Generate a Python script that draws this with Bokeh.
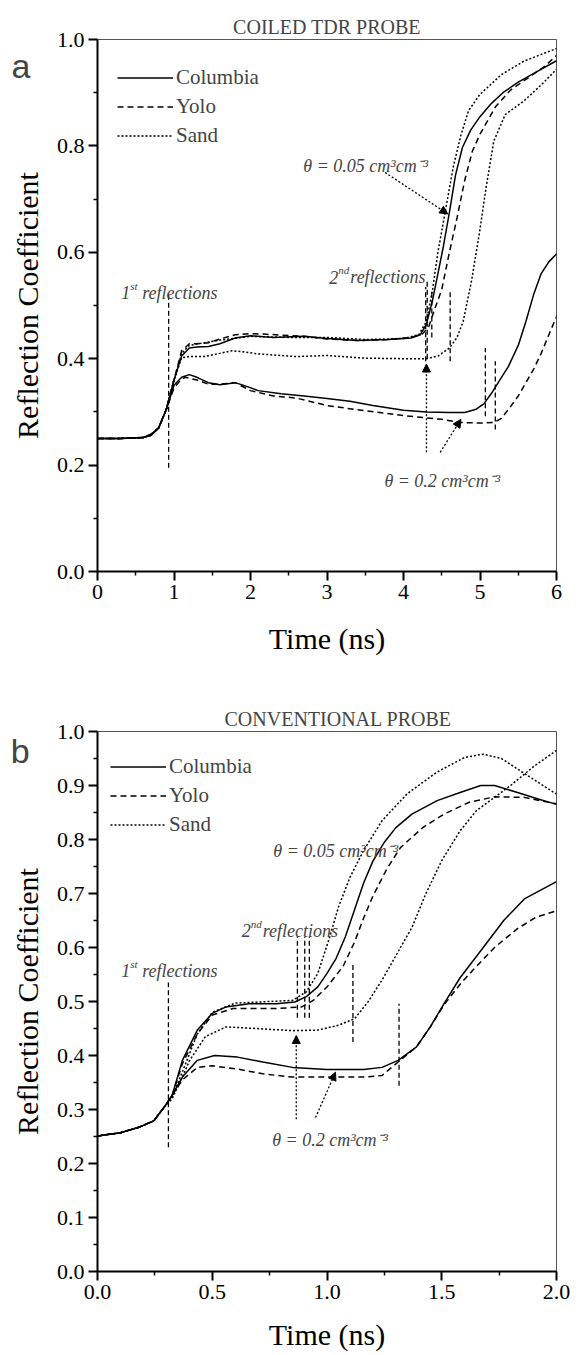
from bokeh.plotting import figure
from bokeh.models import (FixedTicker, Legend, LegendItem, Label, Arrow, NormalHead,
                          Range1d, PrintfTickFormatter)
from bokeh.layouts import column
from bokeh.embed import file_html
from bokeh.resources import INLINE

SERIF = "Liberation Serif"
SANS = "Liberation Sans"

# ---------------- Panel a : coiled TDR probe ----------------
a_col05_t = [0, 0.3, 0.6, 0.7, 0.8, 0.9, 1.0, 1.1, 1.2, 1.3, 1.45, 1.6, 1.8, 2.0, 2.3, 2.7, 3.0, 3.4, 3.8,
             4.1, 4.22, 4.3, 4.38, 4.45, 4.52, 4.6, 4.68, 4.77, 4.88, 5.0, 5.15, 5.3, 5.5, 5.75, 6.0]
a_col05_r = [0.25, 0.25, 0.252, 0.256, 0.27, 0.305, 0.36, 0.405, 0.42, 0.422, 0.423, 0.428, 0.439, 0.443,
             0.44, 0.442, 0.438, 0.434, 0.436, 0.439, 0.445, 0.465, 0.51, 0.56, 0.61, 0.675, 0.745, 0.797,
             0.83, 0.855, 0.88, 0.9, 0.92, 0.94, 0.96]
a_yolo05_t = [0, 0.3, 0.6, 0.7, 0.8, 0.9, 1.0, 1.1, 1.2, 1.3, 1.45, 1.6, 1.8, 2.0, 2.2, 2.7, 3.0, 3.4, 3.8,
              4.1, 4.25, 4.33, 4.4, 4.5, 4.6, 4.7, 4.8, 4.9, 5.0, 5.2, 5.4, 5.65, 5.85, 6.0]
a_yolo05_r = [0.25, 0.25, 0.252, 0.256, 0.27, 0.305, 0.36, 0.415, 0.428, 0.428, 0.43, 0.437, 0.445, 0.447,
              0.446, 0.442, 0.437, 0.434, 0.436, 0.44, 0.447, 0.46, 0.49, 0.53, 0.6, 0.665, 0.735, 0.79,
              0.822, 0.873, 0.905, 0.93, 0.95, 0.97]
a_sand05_t = [0, 0.3, 0.6, 0.7, 0.8, 0.9, 1.0, 1.1, 1.2, 1.4, 1.6, 2.0, 2.5, 3.0, 3.5, 4.0, 4.2, 4.3,
              4.38, 4.45, 4.55, 4.65, 4.75, 4.85, 5.0, 5.28, 5.57, 5.8, 6.0]
a_sand05_r = [0.25, 0.25, 0.252, 0.256, 0.27, 0.305, 0.36, 0.41, 0.425, 0.43, 0.435, 0.442, 0.44, 0.44,
              0.436, 0.438, 0.445, 0.47, 0.53, 0.6, 0.68, 0.76, 0.82, 0.866, 0.897, 0.934, 0.959,
              0.972, 0.983]
a_col20_t = [0, 0.3, 0.6, 0.7, 0.8, 0.9, 1.0, 1.1, 1.2, 1.3, 1.45, 1.6, 1.8, 1.95, 2.1, 2.4, 2.7, 3.0, 3.3,
             3.6, 4.0, 4.3, 4.6, 4.8, 4.95, 5.05, 5.15, 5.25, 5.37, 5.5, 5.6, 5.7, 5.8, 5.9, 6.0]
a_col20_r = [0.25, 0.25, 0.252, 0.258, 0.27, 0.305, 0.35, 0.365, 0.37, 0.365, 0.355, 0.351, 0.355, 0.348,
             0.34, 0.334, 0.33, 0.325, 0.32, 0.312, 0.303, 0.3, 0.299, 0.299, 0.305, 0.315, 0.335, 0.358,
             0.385, 0.425, 0.47, 0.52, 0.56, 0.582, 0.597]
a_yolo20_t = [0, 0.3, 0.6, 0.7, 0.8, 0.9, 1.0, 1.1, 1.15, 1.3, 1.45, 1.6, 1.8, 2.0, 2.3, 2.6, 3.0, 3.5, 4.0,
              4.5, 4.75, 5.0, 5.18, 5.28, 5.4, 5.5, 5.6, 5.7, 5.8, 5.9, 6.0]
a_yolo20_r = [0.25, 0.25, 0.252, 0.258, 0.27, 0.305, 0.345, 0.362, 0.365, 0.36, 0.352, 0.352, 0.355, 0.34,
              0.33, 0.326, 0.312, 0.302, 0.293, 0.286, 0.28, 0.279, 0.28, 0.288, 0.31, 0.33, 0.355, 0.38,
              0.41, 0.445, 0.479]
a_sand20_t = [0, 0.3, 0.6, 0.7, 0.8, 0.9, 1.0, 1.1, 1.2, 1.4, 1.6, 1.76, 1.9, 2.1, 2.6, 3.0, 3.5, 4.0, 4.3,
              4.45, 4.6, 4.7, 4.78, 4.89, 4.99, 5.08, 5.18, 5.33, 5.57, 5.81, 6.0]
a_sand20_r = [0.25, 0.25, 0.252, 0.256, 0.27, 0.305, 0.36, 0.402, 0.404, 0.404, 0.41, 0.415, 0.413, 0.409,
              0.404, 0.406, 0.401, 0.4, 0.4, 0.405, 0.42, 0.44, 0.47, 0.547, 0.634, 0.722, 0.809, 0.859,
              0.884, 0.916, 0.944]

# reflection markers (time, lower, upper)
a_refl_t = [0.93, 4.29, 4.31, 4.37, 4.61, 5.07, 5.20]
a_refl_lo = [0.195, 0.395, 0.40, 0.44, 0.395, 0.292, 0.267]
a_refl_hi = [0.52, 0.535, 0.545, 0.53, 0.53, 0.42, 0.395]

# ---------------- Panel b : conventional probe ----------------
b_col05_t = [0, 0.1, 0.18, 0.245, 0.29, 0.325, 0.37, 0.435, 0.5, 0.56, 0.66, 0.78, 0.86, 0.91, 0.96, 1.0,
             1.04, 1.08, 1.12, 1.16, 1.2, 1.25, 1.3, 1.37, 1.48, 1.58, 1.67, 1.73, 1.83, 1.92, 2.0]
b_col05_r = [0.251, 0.257, 0.267, 0.279, 0.304, 0.326, 0.391, 0.447, 0.478, 0.49, 0.496, 0.496, 0.499,
             0.509, 0.527, 0.552, 0.58, 0.62, 0.67, 0.72, 0.76, 0.795, 0.822, 0.847, 0.872, 0.887, 0.9,
             0.9, 0.887, 0.875, 0.865]
b_yolo05_t = [0, 0.1, 0.18, 0.245, 0.29, 0.325, 0.37, 0.435, 0.5, 0.59, 0.78, 0.89, 0.94, 1.0, 1.07, 1.12,
              1.16, 1.2, 1.26, 1.32, 1.42, 1.51, 1.62, 1.73, 1.86, 2.0]
b_yolo05_r = [0.251, 0.257, 0.267, 0.279, 0.304, 0.326, 0.385, 0.44, 0.475, 0.487, 0.487, 0.49, 0.502,
              0.527, 0.565, 0.61, 0.655, 0.695, 0.745, 0.785, 0.823, 0.847, 0.869, 0.879, 0.878, 0.866]
b_sand05_t = [0, 0.1, 0.18, 0.245, 0.29, 0.325, 0.37, 0.435, 0.5, 0.6, 0.85, 0.91, 0.96, 1.01, 1.05, 1.1,
              1.16, 1.24, 1.35, 1.48, 1.6, 1.68, 1.76, 1.85, 2.0]
b_sand05_r = [0.251, 0.257, 0.267, 0.279, 0.304, 0.322, 0.37, 0.44, 0.48, 0.497, 0.502, 0.518, 0.552,
              0.617, 0.675, 0.73, 0.78, 0.835, 0.885, 0.925, 0.952, 0.958, 0.95, 0.925, 0.884]
b_col20_t = [0, 0.1, 0.18, 0.245, 0.29, 0.325, 0.37, 0.435, 0.51, 0.61, 0.72, 0.85, 1.0, 1.16, 1.24, 1.31,
             1.39, 1.45, 1.51, 1.58, 1.67, 1.77, 1.86, 2.0]
b_col20_r = [0.251, 0.257, 0.267, 0.279, 0.304, 0.326, 0.36, 0.391, 0.40, 0.397, 0.388, 0.378, 0.374,
             0.374, 0.378, 0.391, 0.416, 0.453, 0.496, 0.544, 0.594, 0.65, 0.69, 0.722]
b_yolo20_t = [0, 0.1, 0.18, 0.245, 0.29, 0.325, 0.37, 0.435, 0.5, 0.61, 0.72, 0.85, 1.0, 1.16, 1.24, 1.31,
              1.39, 1.45, 1.51, 1.58, 1.64, 1.73, 1.83, 1.91, 2.0]
b_yolo20_r = [0.251, 0.257, 0.267, 0.279, 0.304, 0.326, 0.355, 0.378, 0.381, 0.375, 0.366, 0.36, 0.36,
              0.36, 0.363, 0.388, 0.416, 0.453, 0.494, 0.532, 0.56, 0.6, 0.635, 0.656, 0.668]
b_sand20_t = [0, 0.1, 0.18, 0.245, 0.29, 0.325, 0.37, 0.4, 0.47, 0.56, 0.69, 0.85, 0.96, 1.05, 1.12, 1.18,
              1.24, 1.29, 1.32, 1.37, 1.43, 1.5, 1.58, 1.65, 1.72, 1.8, 1.9, 2.0]
b_sand20_r = [0.251, 0.257, 0.267, 0.279, 0.304, 0.32, 0.36, 0.39, 0.435, 0.453, 0.45, 0.446, 0.447,
              0.456, 0.468, 0.5, 0.54, 0.577, 0.6, 0.637, 0.699, 0.761, 0.816, 0.853, 0.875, 0.9, 0.935,
              0.965]

b_refl_t = [0.309, 0.871, 0.903, 0.923, 1.113, 1.314]
b_refl_lo = [0.23, 0.47, 0.47, 0.47, 0.425, 0.344]
b_refl_hi = [0.535, 0.62, 0.62, 0.62, 0.572, 0.496]

legend_labels = ["Columbia", "Yolo", "Sand"]
a_xticks = [0, 1, 2, 3, 4, 5, 6]
a_yticks = [0.0, 0.2, 0.4, 0.6, 0.8, 1.0]
b_xticks = [0.0, 0.5, 1.0, 1.5, 2.0]
b_yticks = [0.0, 0.1, 0.2, 0.3, 0.4, 0.5, 0.6, 0.7, 0.8, 0.9, 1.0]

DASH = {"solid": "solid", "dashed": "6 4", "dotted": "2 2"}
W = 578


def make_panel(height, xr, title, xticks, xminor, yticks, yminor, xfmt, btop, bbot, bright, xstand):
    p = figure(width=W, height=height, x_range=Range1d(*xr), y_range=Range1d(0, 1),
               output_backend="svg", toolbar_location=None,
               min_border_left=97, min_border_right=bright, min_border_top=btop, min_border_bottom=bbot)
    p.title.text = title
    p.title.align = "center"
    p.title.text_font = SERIF
    p.title.text_font_size = "20px"
    p.title.text_font_style = "normal"
    p.title.standoff = 4
    p.xgrid.visible = False
    p.ygrid.visible = False
    p.outline_line_color = "#555555"
    p.outline_line_width = 1
    p.xaxis.ticker = FixedTicker(ticks=xticks, minor_ticks=xminor)
    p.yaxis.ticker = FixedTicker(ticks=yticks, minor_ticks=yminor)
    p.xaxis.formatter = PrintfTickFormatter(format=xfmt)
    p.yaxis.formatter = PrintfTickFormatter(format="%.1f")
    p.xaxis.axis_label = "Time (ns)"
    p.yaxis.axis_label = "Reflection Coefficient"
    for ax in p.axis:
        ax.axis_line_width = 2
        ax.axis_line_color = "black"
        ax.major_tick_line_width = 2
        ax.major_tick_out = 9
        ax.major_tick_in = 0
        ax.minor_tick_line_width = 1.5
        ax.minor_tick_out = 4
        ax.minor_tick_in = 0
        ax.major_label_text_font = SERIF
        ax.major_label_text_font_size = "22px"
        ax.major_label_text_color = "black"
        ax.major_label_standoff = 4
        ax.axis_label_text_font = SERIF
        ax.axis_label_text_font_size = "30px"
        ax.axis_label_text_font_style = "normal"
        ax.axis_label_text_color = "black"
    p.xaxis.axis_label_standoff = xstand
    p.yaxis.axis_label_standoff = 10
    return p


def add_series(p, series):
    rs = []
    for t, r, style in series:
        rs.append(p.line(t, r, line_color="black", line_width=1.5, line_dash=DASH[style]))
    return rs


def add_markers(p, ts, lo, hi):
    p.segment(x0=ts, y0=lo, x1=ts, y1=hi, line_color="black", line_width=1.3, line_dash="5 3")


def add_legend(p, rs, loc):
    items = [LegendItem(label=lab, renderers=[r]) for lab, r in zip(legend_labels, rs)]
    lg = Legend(items=items, location=loc, glyph_width=56, glyph_height=29, label_standoff=3,
                spacing=0, padding=0, margin=0, border_line_color=None, background_fill_alpha=0,
                label_text_font=SERIF, label_text_font_size="21px", label_height=20)
    p.add_layout(lg)


def ital(p, text, x, y, size="18px", xo=0, yo=0):
    p.add_layout(Label(x=x, y=y, text=text, x_offset=xo, y_offset=yo, text_font=SERIF,
                       text_font_size=size, text_font_style="italic", text_baseline="alphabetic"))


def ordinal(p, num, sup, x, y):
    ital(p, num, x, y)
    ital(p, sup, x, y, size="11px", xo=9, yo=7)
    ital(p, "reflections", x, y, xo=21)


def arrow(p, x0, y0, x1, y1):
    p.add_layout(Arrow(end=NormalHead(size=8, fill_color="black", line_color="black"),
                       x_start=x0, y_start=y0, x_end=x1, y_end=y1,
                       line_dash="2 2", line_width=1.3, line_color="black"))


def panel_letter(p, letter, x, y):
    # placed in a side panel so that it is not clipped to the plot frame
    p.add_layout(Label(x=x, y=y, text=letter, text_font=SANS, text_font_size="34px",
                       text_align="left", text_baseline="middle"), "right")


# ---- panel a ----
pa = make_panel(680, (0, 6), "COILED TDR PROBE", a_xticks, [0.5, 1.5, 2.5, 3.5, 4.5, 5.5],
                a_yticks, [0.1, 0.3, 0.5, 0.7, 0.9], "%d", 39, 109, 22, 20)
ra = add_series(pa, [(a_col05_t, a_col05_r, "solid"), (a_yolo05_t, a_yolo05_r, "dashed"),
                     (a_sand05_t, a_sand05_r, "dotted")])
add_series(pa, [(a_col20_t, a_col20_r, "solid"), (a_yolo20_t, a_yolo20_r, "dashed"),
                (a_sand20_t, a_sand20_r, "dotted")])
add_markers(pa, a_refl_t, a_refl_lo, a_refl_hi)
add_legend(pa, ra, (20, 421))
ordinal(pa, "1", "st", 0.31, 0.524)
ordinal(pa, "2", "nd", 3.03, 0.553)
ital(pa, "θ = 0.05 cm³cm⁻³", 2.69, 0.763)
ital(pa, "θ = 0.2 cm³cm⁻³", 3.75, 0.171)
arrow(pa, 3.76, 0.75, 4.58, 0.672)
arrow(pa, 4.30, 0.224, 4.30, 0.39)
arrow(pa, 4.48, 0.224, 4.75, 0.286)
panel_letter(pa, "a", -1.124, 0.951)

# ---- panel b ----
pb = make_panel(675, (0, 2), "CONVENTIONAL PROBE", b_xticks, [0.25, 0.75, 1.25, 1.75],
                b_yticks, [0.05 + 0.1 * i for i in range(10)], "%.1f", 51, 84, 16, 16)
pb.title.align = "left"
pb.title.offset = 127
rb = add_series(pb, [(b_col05_t, b_col05_r, "solid"), (b_yolo05_t, b_yolo05_r, "dashed"),
                     (b_sand05_t, b_sand05_r, "dotted")])
add_series(pb, [(b_col20_t, b_col20_r, "solid"), (b_yolo20_t, b_yolo20_r, "dashed"),
                (b_sand20_t, b_sand20_r, "dotted")])
add_markers(pb, b_refl_t, b_refl_lo, b_refl_hi)
add_legend(pb, rb, (13, 432))
ordinal(pb, "1", "st", 0.103, 0.557)
ordinal(pb, "2", "nd", 0.628, 0.631)
ital(pb, "θ = 0.05 cm³cm⁻³", 0.766, 0.778)
ital(pb, "θ = 0.2 cm³cm⁻³", 0.761, 0.243)
arrow(pb, 0.866, 0.282, 0.866, 0.437)
arrow(pb, 0.95, 0.285, 1.037, 0.369)
panel_letter(pb, "b", -0.378, 0.963)

layout = column(pa, pb)
open("out.html", "w").write(file_html(layout, INLINE))
